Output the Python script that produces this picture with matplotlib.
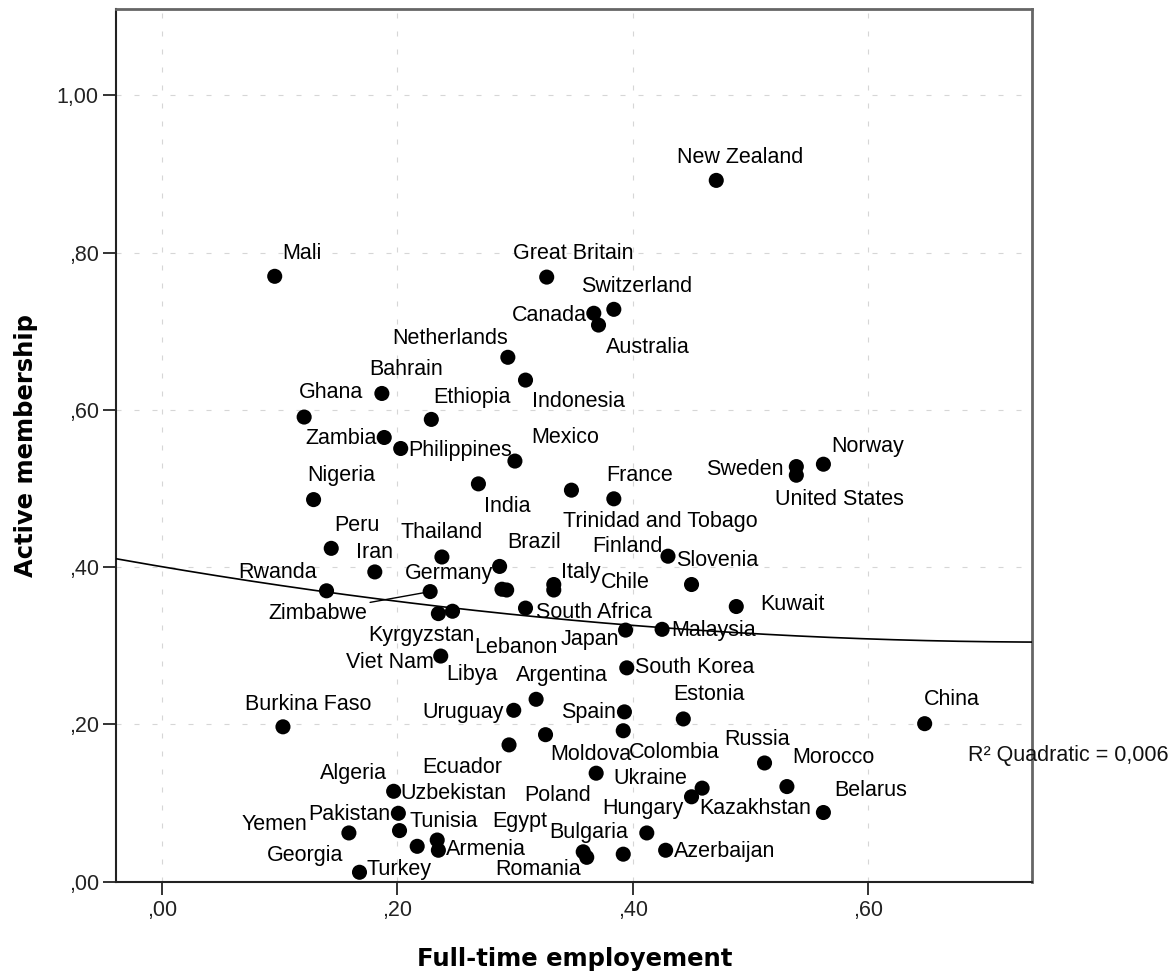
import matplotlib
matplotlib.use("Agg")
import matplotlib.pyplot as plt
import numpy as np

# country-level shares: full-time employment vs active membership
countries = [
    "New Zealand", "Mali", "Great Britain", "Switzerland", "Canada", "Australia",
    "Netherlands", "Indonesia", "Bahrain", "Ghana", "Ethiopia", "Zambia",
    "Philippines", "Mexico", "India", "Trinidad and Tobago", "France", "Sweden",
    "United States", "Norway", "Nigeria", "Peru", "Iran", "Rwanda", "Thailand",
    "Brazil", "Germany", "Lebanon", "Italy", "Chile", "Zimbabwe", "Kyrgyzstan",
    "Libya", "South Africa", "Viet Nam", "Japan", "Malaysia", "Finland",
    "Slovenia", "Kuwait", "Burkina Faso", "South Korea", "Argentina", "Uruguay",
    "Spain", "Estonia", "China", "Colombia", "Moldova", "Ecuador", "Russia",
    "Poland", "Ukraine", "Kazakhstan", "Morocco", "Belarus", "Algeria",
    "Uzbekistan", "Pakistan", "Tunisia", "Yemen", "Turkey", "Georgia", "Armenia",
    "Egypt", "Bulgaria", "Romania", "Hungary", "Azerbaijan",
]
full_time = [
    0.471, 0.096, 0.327, 0.384, 0.367, 0.371,
    0.294, 0.309, 0.187, 0.121, 0.229, 0.189,
    0.203, 0.300, 0.269, 0.348, 0.384, 0.539,
    0.539, 0.562, 0.129, 0.144, 0.181, 0.140, 0.238,
    0.287, 0.289, 0.293, 0.333, 0.333, 0.228, 0.235,
    0.247, 0.309, 0.237, 0.394, 0.425, 0.430,
    0.450, 0.488, 0.103, 0.395, 0.318, 0.299,
    0.393, 0.443, 0.648, 0.392, 0.326, 0.295, 0.512,
    0.369, 0.459, 0.450, 0.531, 0.562, 0.197,
    0.201, 0.202, 0.217, 0.159, 0.168, 0.234, 0.235,
    0.358, 0.392, 0.361, 0.412, 0.428,
]
active = [
    0.892, 0.770, 0.769, 0.728, 0.723, 0.708,
    0.667, 0.638, 0.621, 0.591, 0.588, 0.565,
    0.551, 0.535, 0.506, 0.498, 0.487, 0.528,
    0.517, 0.531, 0.486, 0.424, 0.394, 0.370, 0.413,
    0.401, 0.372, 0.371, 0.378, 0.371, 0.369, 0.341,
    0.344, 0.348, 0.287, 0.320, 0.321, 0.414,
    0.378, 0.350, 0.197, 0.272, 0.232, 0.218,
    0.216, 0.207, 0.201, 0.192, 0.187, 0.174, 0.151,
    0.138, 0.119, 0.108, 0.121, 0.088, 0.115,
    0.087, 0.065, 0.045, 0.062, 0.012, 0.053, 0.040,
    0.038, 0.035, 0.031, 0.062, 0.040,
]

x_ticks = [0.0, 0.2, 0.4, 0.6]
x_tick_labels = [",00", ",20", ",40", ",60"]
y_ticks = [0.0, 0.2, 0.4, 0.6, 0.8, 1.0]
y_tick_labels = [",00", ",20", ",40", ",60", ",80", "1,00"]

# where each label sits relative to its point (left/baseline, in pixels)
label_offsets = {
    "New Zealand": (-39, 17.7), "Mali": (7.7, 17.4), "Great Britain": (-34, 18),
    "Switzerland": (-32.3, 17.6), "Canada": (-82.3, -7.4), "Australia": (7.4, -27.7),
    "Netherlands": (-115.7, 13.7), "Indonesia": (6.3, -26.7), "Bahrain": (-12.3, 18.3),
    "Ghana": (-5, 19), "Ethiopia": (1.6, 16), "Zambia": (-79.3, -6.6),
    "Philippines": (7.3, -7.7), "Mexico": (16, 18.3), "India": (5.6, -28.4),
    "Trinidad and Tobago": (-8.4, -36.7), "France": (-7.6, 18), "Sweden": (-90, -8.3),
    "United States": (-21, -30), "Norway": (7.4, 12.6), "Nigeria": (-6.6, 18.3),
    "Peru": (3.3, 17.6), "Iran": (-19, 14), "Rwanda": (-88.7, 12.4),
    "Thailand": (-41, 18.9), "Brazil": (7.4, 18.4), "Germany": (-96.7, 10.3),
    "Lebanon": (-32, -63.3), "Italy": (7.7, 6.2), "Chile": (47.4, 1.7),
    "Zimbabwe": (-161.7, -27.3), "Kyrgyzstan": (-70, -27), "Libya": (-6, -69),
    "South Africa": (10, -10.3), "Viet Nam": (-94.3, -12.3), "Japan": (-65, -15),
    "Malaysia": (9, -6.7), "Finland": (-75.6, 4), "Slovenia": (-15, 18.3),
    "Kuwait": (24.3, -3.3), "Burkina Faso": (-38.4, 16.7), "South Korea": (8.3, -5),
    "Argentina": (-20, 18.3), "Uruguay": (-91.7, -7.6), "Spain": (-63.3, -6.6),
    "Estonia": (-10, 18.6), "China": (-1, 19), "Colombia": (6, -27.3),
    "Moldova": (4.7, -25.7), "Ecuador": (-87, -28.3), "Russia": (-40, 17.7),
    "Poland": (-71.7, -27.4), "Ukraine": (-88.4, 4.3), "Kazakhstan": (7.3, -17.6),
    "Morocco": (5.4, 23.4), "Belarus": (11, 17), "Algeria": (-74, 12.4),
    "Uzbekistan": (2.4, 14.3), "Pakistan": (-91.7, 11), "Tunisia": (-7.4, 19.3),
    "Yemen": (-107.6, 3.3), "Turkey": (6.7, -2.3), "Georgia": (-170, -21),
    "Armenia": (7.7, -5), "Egypt": (-90.6, 25), "Bulgaria": (-74.3, 16),
    "Romania": (-91.7, -17.7), "Hungary": (-44.4, 19.4), "Azerbaijan": (8.3, -6.7),
}

plt.rcParams['font.family'] = ['Liberation Sans', 'DejaVu Sans']

W, H = 1172, 975
fig = plt.figure(figsize=(W / 100, H / 100), dpi=100)
ax = fig.add_axes([116 / W, 1 - 881.7 / H, (1031.7 - 116) / W, (881.7 - 9) / H])

x = np.array(full_time)
y = np.array(active)

ax.set_xlim(-0.0388, 0.7389)
ax.set_ylim(0, 1.110)

# dashed reference grid
for gx in x_ticks:
    ax.axvline(gx, color='#d6d6d6', lw=0.8, ls=(0, (4.5, 11.7)), zorder=0)
for gy in y_ticks[1:]:
    ax.axhline(gy, color='#d6d6d6', lw=0.8, ls=(0, (4.5, 11.7)), zorder=0)

ax.scatter(x, y, s=118, color='black', edgecolors='none', zorder=4)

# quadratic fit line
coef = np.polyfit(x, y, 2)
xs = np.linspace(-0.0388, 0.7389, 200)
ax.plot(xs, np.polyval(coef, xs), color='black', lw=1.2, zorder=5)

for name, px, py in zip(countries, x, y):
    dx, dy = label_offsets[name]
    kw = {}
    if name == "Zimbabwe":
        kw['arrowprops'] = dict(arrowstyle='-', color='black', lw=1.0,
                                shrinkA=0, shrinkB=4, relpos=(1.0, 1.0))
    ax.annotate(name, (px, py), xytext=(dx, dy), textcoords='offset pixels',
                ha='left', va='baseline', fontsize=15.5, color='black', zorder=3, **kw)

ax.set_xticks(x_ticks)
ax.set_xticklabels(x_tick_labels)
ax.set_yticks(y_ticks)
ax.set_yticklabels(y_tick_labels)
ax.tick_params(axis='both', labelsize=15.5, labelcolor='#222222', color='#333333',
               length=9.4, width=1.4, direction='out')
ax.tick_params(axis='x', pad=4)
ax.tick_params(axis='y', pad=3)

for side in ['left', 'bottom']:
    ax.spines[side].set_color('#222222')
    ax.spines[side].set_linewidth(1.5)
for side in ['top', 'right']:
    ax.spines[side].set_color('#666666')
    ax.spines[side].set_linewidth(2.0)

fig.text(575 / W, 1 - 966 / H, "Full-time employement", ha='center', va='baseline',
         fontsize=17.5, fontweight='bold', family='DejaVu Sans')
fig.text(33.3 / W, 1 - 445.3 / H, "Active membership", rotation=90,
         rotation_mode='anchor', ha='center', va='baseline',
         fontsize=17.5, fontweight='bold', family='DejaVu Sans')

fig.text(968.3 / W, 1 - 761 / H, "R\u00b2 Quadratic = 0,006", ha='left',
         va='baseline', fontsize=15.5, color='#111111')

fig.savefig("out.png", dpi=100)
